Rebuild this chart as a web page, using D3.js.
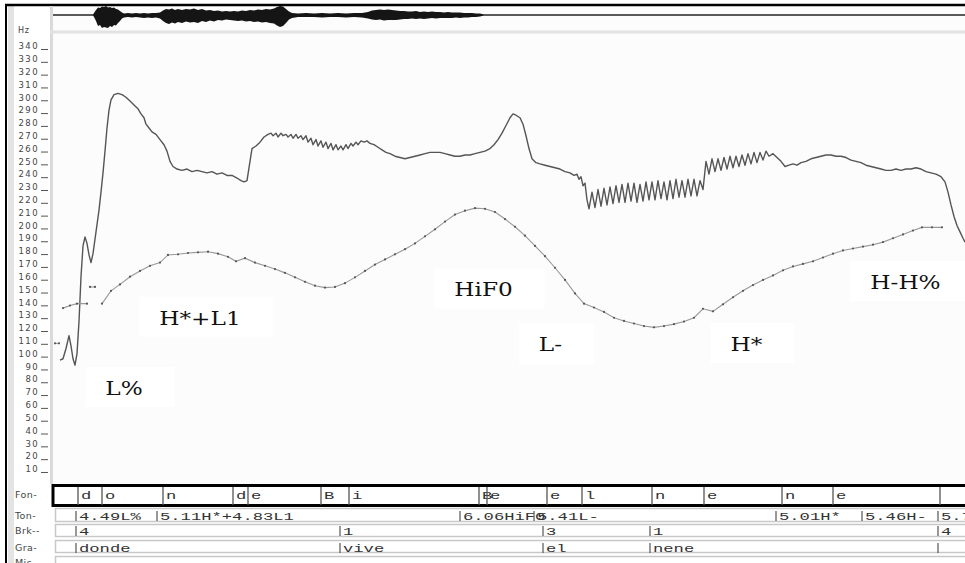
<!DOCTYPE html>
<html>
<head>
<meta charset="utf-8">
<script src="https://cdn.jsdelivr.net/npm/d3@7"></script>
<style>
  body { margin: 0; background: #fff; }
  svg { display: block; }
</style>
</head>
<body>
<figure id="pitch" style="margin:0"></figure>
<script>
// time in ms (0 = left edge of the analysis window), pitch in Hz
const f0Upper = [
  [14,95],[20,96],[26,104],[32,114],[36,106],[40,96],[44,91],[48,100],[52,125],[56,160],
  [60,184],[64,191],[68,186],[72,177],[76,171],[80,178],[86,195],[92,212],[96,226],[100,241],
  [104,258],[108,276],[112,290],[116,298],[122,302],[130,303],[138,302],[146,300],[154,297],[162,294],
  [170,291],[176,287],[182,284],[186,279],[192,276],[198,273],[206,271],[214,267],[222,263],[228,258],
  [234,250],[240,246],[248,244],[258,243],[268,244],[278,242],[288,243],[298,242],[308,241],[318,242],
  [328,240],[338,241],[348,239],[358,239],[368,237],[376,235],[382,234],[388,235],[394,250],[398,260],
  [406,262],[414,265],[422,269],[430,271],[436,272],[440,270],[446,272],[450,269],[456,272],[460,270],
  [466,271],[470,269],[476,271],[480,268],[486,271],[490,268],[496,270],[500,267],[506,270],[510,265],
  [516,268],[520,263],[526,267],[530,262],[536,266],[540,261],[546,265],[550,260],[556,264],[560,259],
  [566,263],[570,259],[576,262],[580,259],[586,263],[590,260],[596,264],[600,262],[606,265],[610,263],
  [616,266],[622,265],[628,266],[634,264],[642,263],[650,261],[658,259],[666,257],[674,256],[684,254],
  [694,253],[704,252],[714,253],[724,254],[734,255],[744,256],[754,257],[764,257],[774,257],[784,256],
  [794,255],[804,254],[814,254],[824,255],[834,255],[844,256],[854,257],[864,258],[874,260],[882,263],
  [890,267],[898,272],[906,278],[914,284],[920,287],[926,286],[934,284],[940,279],[946,270],[952,260],
  [958,252],[966,249],[974,248],[984,247],[994,246],[1004,245],[1014,244],[1024,242],[1034,241],[1042,239],
  [1048,240],[1052,236],[1056,238],[1060,231],[1064,233],[1068,220],[1072,213],[1078,226],[1084,214],[1090,228],
  [1096,215],[1102,229],[1108,216],[1114,230],[1120,217],[1126,231],[1132,218],[1138,232],[1144,218],[1150,233],
  [1156,219],[1162,233],[1168,218],[1174,232],[1180,219],[1186,234],[1192,220],[1198,234],[1204,220],[1210,235],
  [1216,221],[1222,234],[1228,220],[1234,235],[1240,221],[1246,236],[1252,222],[1258,235],[1264,222],[1270,236],
  [1276,223],[1282,236],[1288,223],[1294,235],[1300,228],[1306,250],[1312,240],[1318,252],[1324,242],[1330,252],
  [1336,243],[1342,253],[1348,244],[1354,254],[1360,245],[1366,254],[1372,246],[1378,255],[1384,247],[1390,256],
  [1396,248],[1402,257],[1408,249],[1414,257],[1420,251],[1426,258],[1432,254],[1440,256],[1448,253],[1456,250],
  [1464,246],[1472,247],[1480,248],[1488,247],[1496,249],[1506,250],[1516,252],[1526,253],[1536,254],[1546,255],
  [1556,255],[1566,254],[1576,254],[1586,253],[1596,251],[1606,250],[1616,249],[1626,247],[1636,246],[1646,245],
  [1656,244],[1666,243],[1676,243],[1686,244],[1696,243],[1706,244],[1716,244],[1726,245],[1736,244],[1746,242],
  [1756,241],[1766,240],[1776,238],[1784,234],[1790,226],[1796,216],[1802,207],[1808,200],[1814,195],[1820,190],
  [1824,187]
];

// stylised (resynthesised) contour, one dot per frame
const f0Stylized = [
  [98,139],[116,149],[134,154],[154,160],[174,164.5],[194,168.5],[214,171],[230,177],[250,177.5],[270,178.5],
  [290,179],[310,179.5],[330,178],[350,175.5],[366,172],[384,174.5],[404,171],[424,168.5],[444,166],[464,163],
  [484,159.5],[504,156],[524,153],[544,151.5],[564,152],[584,155],[604,159.5],[624,164.5],[644,169.5],[664,173.5],
  [684,177.5],[704,181.5],[724,186],[744,191.5],[764,197],[784,203],[804,208.5],[824,211.5],[844,213.5],[864,213],
  [884,210.5],[904,205],[924,199],[944,192],[964,184],[984,176],[1004,167],[1024,157.5],[1044,147],[1062,139],
  [1082,136],[1102,132.5],[1122,128],[1142,125.5],[1162,123.5],[1182,121.5],[1202,120.5],[1222,121.5],[1242,123],[1262,125],
  [1282,128],[1300,135],[1320,133],[1340,138.5],[1360,144],[1380,149],[1400,153.5],[1420,157.5],[1440,161],[1460,165],
  [1480,168],[1500,170],[1520,172],[1540,175],[1560,178],[1580,180.5],[1600,182],[1620,183.5],[1640,185],[1660,187],
  [1680,190],[1700,193],[1720,196],[1738,198.5],[1758,198.5],[1778,198.5]
];
// stray stylised fragments at the start
const f0Fragments = [
  [[4,108],[12,108]],
  [[20,135.5],[34,137.5],[48,139],[68,139]],
  [[74,152],[84,152]]
];

// waveform envelope: time, upper amplitude, lower amplitude
const waveEnv = [
  [0,0.05,-0.05],[80,0.05,-0.05],[82,0.2,-0.2],[86,0.5,-0.6],[90,0.75,-1.1],[94,0.7,-1.0],[98,0.85,-1.3],
  [102,0.8,-1.2],[106,0.9,-1.25],[110,0.75,-1.3],[114,0.8,-1.1],[118,0.7,-1.2],[122,0.75,-1.0],[126,0.6,-1.05],
  [130,0.55,-0.8],[134,0.4,-0.6],[138,0.25,-0.35],[142,0.15,-0.25],[150,0.2,-0.2],[158,0.15,-0.25],[166,0.2,-0.2],
  [174,0.15,-0.25],[182,0.2,-0.3],[190,0.15,-0.25],[198,0.2,-0.3],[206,0.2,-0.25],[214,0.25,-0.35],[220,0.45,-0.6],
  [226,0.6,-0.8],[232,0.55,-0.9],[238,0.65,-0.75],[244,0.5,-0.85],[250,0.6,-0.7],[258,0.5,-0.8],[266,0.6,-0.65],
  [274,0.55,-0.75],[282,0.65,-0.7],[290,0.5,-0.8],[298,0.6,-0.6],[306,0.45,-0.7],[314,0.5,-0.55],[322,0.4,-0.65],
  [330,0.45,-0.5],[338,0.35,-0.55],[346,0.4,-0.45],[354,0.35,-0.5],[362,0.4,-0.55],[370,0.35,-0.6],[378,0.45,-0.55],
  [386,0.4,-0.65],[394,0.5,-0.6],[402,0.45,-0.7],[410,0.55,-0.65],[418,0.5,-0.75],[426,0.6,-0.7],[434,0.55,-0.8],
  [442,0.65,-0.85],[448,0.8,-1.05],[454,0.9,-1.2],[460,0.85,-1.1],[466,0.6,-0.8],[472,0.35,-0.45],[478,0.2,-0.3],
  [490,0.15,-0.2],[506,0.2,-0.2],[522,0.15,-0.2],[538,0.2,-0.25],[554,0.15,-0.2],[570,0.2,-0.2],[586,0.15,-0.25],
  [602,0.2,-0.2],[618,0.2,-0.25],[630,0.3,-0.35],[638,0.45,-0.45],[646,0.5,-0.5],[654,0.55,-0.45],[662,0.5,-0.55],
  [670,0.55,-0.5],[678,0.5,-0.5],[686,0.45,-0.5],[694,0.4,-0.45],[702,0.4,-0.4],[710,0.35,-0.4],[718,0.35,-0.35],
  [726,0.4,-0.4],[734,0.3,-0.35],[742,0.35,-0.4],[750,0.3,-0.35],[758,0.35,-0.3],[766,0.3,-0.35],[774,0.3,-0.3],
  [782,0.25,-0.3],[790,0.3,-0.3],[798,0.25,-0.3],[806,0.25,-0.25],[814,0.25,-0.3],[822,0.2,-0.25],[830,0.2,-0.25],
  [838,0.2,-0.2],[846,0.15,-0.2],[854,0.15,-0.15],[862,0.05,-0.05],[1824,0.05,-0.05]
];

const hzTicks = d3.range(10, 341, 10);

// ToBI annotations placed on the pitch panel
const annoText = ["L%", "H*+L1", "HiF0", "L-", "H*", "H-H%"];
const annoTime = [142, 294, 861, 995, 1387, 1705];
const annoHz = [73, 128, 150, 107, 107.5, 156];

// label tiers
const tierNames = ["Fon-", "Ton-", "Brk--", "Gra-", "Mis-"];
const fonTimes = [0, 50, 98, 220, 360, 390, 536, 592, 852, 868, 988, 1058, 1198, 1302, 1458, 1560, 1774];
const fonLabels = ["", "d", "o", "n", "d", "e", "B", "i", "B", "e", "e", "l", "n", "e", "n", "e", ""];
const tonTimes = [46, 208, 814, 962, 1446, 1618, 1770];
const tonLabels = ["4.49L%", "5.11H*+4.83L1", "6.06HiF0", "5.41L-", "5.01H*", "5.46H-", "5.7"];
const brkTimes = [46, 574, 980, 1194, 1770];
const brkLabels = ["4", "1", "3", "1", "4"];
const graTimes = [46, 574, 980, 1194, 1770];
const graLabels = ["donde", "vive", "el", "nene", ""];

const width = 965, height = 563;
const plotLeft = 53, plotRight = 965;

const svg = d3.select("figure#pitch")
  .append("svg")
  .attr("width", width)
  .attr("height", height);

const x = d3.scaleLinear().domain([0, 1824]).range([plotLeft, plotRight]);
const y = d3.scaleLinear().domain([0, 340]).range([481.8, 46]);
const yWave = d3.scaleLinear().domain([-1, 1]).range([25, 5]);

// window frame
svg.append("rect").attr("x", 0).attr("y", 0).attr("width", width).attr("height", height).attr("fill", "#fff");
svg.append("rect").attr("x", 8).attr("y", 6).attr("width", 6).attr("height", height).attr("fill", "#e4e4e4");
svg.append("rect").attr("x", plotLeft).attr("y", 6).attr("width", plotRight - plotLeft).attr("height", 478).attr("fill", "#fcfcfc");
svg.append("line").attr("x1", 6).attr("x2", 6).attr("y1", 4).attr("y2", height).attr("stroke", "#000").attr("stroke-width", 2);
svg.append("line").attr("x1", 5).attr("x2", width).attr("y1", 5).attr("y2", 5).attr("stroke", "#000").attr("stroke-width", 2.5);
svg.append("line").attr("x1", 51.5).attr("x2", 51.5).attr("y1", 6).attr("y2", 484).attr("stroke", "#dadada").attr("stroke-width", 3);
svg.append("line").attr("x1", 50).attr("x2", width).attr("y1", 32).attr("y2", 32).attr("stroke", "#e2e2e2").attr("stroke-width", 3);

// waveform
svg.append("line")
  .attr("x1", x(0)).attr("x2", x(1824))
  .attr("y1", yWave(0)).attr("y2", yWave(0))
  .attr("stroke", "#444").attr("stroke-width", 1);

svg.append("path")
  .datum(waveEnv)
  .attr("fill", "#151515")
  .attr("d", d3.area()
    .x(d => x(d[0]))
    .y0(d => yWave(d[2]))
    .y1(d => yWave(d[1])));

// Hz axis
svg.append("text")
  .attr("x", 18).attr("y", 33)
  .attr("font-family", "DejaVu Sans")
  .attr("font-size", 8)
  .attr("letter-spacing", 0.8)
  .attr("fill", "#444")
  .text("Hz");

const yAxis = svg.append("g")
  .attr("transform", "translate(48,0)")
  .call(d3.axisLeft(y).tickValues(hzTicks).tickSize(7).tickPadding(2));
yAxis.select(".domain").remove();
yAxis.selectAll("line").attr("y1", 3).attr("y2", 3).attr("stroke", "#555");
yAxis.selectAll("text")
  .attr("font-family", "DejaVu Sans")
  .attr("font-size", 8.5)
  .attr("letter-spacing", 1.4)
  .attr("fill", "#444");

// annotation boxes, drawn under the contours
const annoG = svg.append("g");
annoText.forEach((t, i) => {
  const g = annoG.append("g");
  const txt = g.append("text")
    .attr("x", x(annoTime[i]))
    .attr("y", y(annoHz[i]))
    .attr("dy", "0.36em")
    .attr("text-anchor", "middle")
    .attr("font-family", "DejaVu Serif")
    .attr("font-size", 19)
    .attr("fill", "#111")
    .text(t);
  const w = txt.node().getComputedTextLength() * 1.22;
  txt.attr("textLength", w).attr("lengthAdjust", "spacingAndGlyphs");
  g.insert("rect", "text")
    .attr("x", x(annoTime[i]) - w / 2 - 20)
    .attr("y", y(annoHz[i]) - 21)
    .attr("width", w + 52)
    .attr("height", 40)
    .attr("fill", "#fff");
});

// pitch contours
const line = d3.line().x(d => x(d[0])).y(d => y(d[1]));

svg.append("path")
  .datum(f0Upper)
  .attr("fill", "none")
  .attr("stroke", "#555")
  .attr("stroke-width", 1.4)
  .attr("stroke-linejoin", "round")
  .attr("d", line);

[f0Stylized].concat(f0Fragments).forEach(seg => {
  svg.append("path")
    .datum(seg)
    .attr("fill", "none")
    .attr("stroke", "#999")
    .attr("stroke-width", 1.1)
    .attr("d", line);
  svg.append("g").selectAll("circle")
    .data(seg)
    .enter()
    .append("circle")
    .attr("cx", d => x(d[0]))
    .attr("cy", d => y(d[1]))
    .attr("r", 1.1)
    .attr("fill", "#555");
});

// label tiers
const tierY = [484, 508, 524, 540, 556];
const tierH = [22, 13, 12, 12, 12];
const tierText = [495, 516, 531, 548, 563];

tierNames.forEach((n, i) => {
  svg.append("text")
    .attr("x", 15).attr("y", tierText[i])
    .attr("dy", "0.35em")
    .attr("font-family", "DejaVu Sans")
    .attr("font-size", 9.5)
    .attr("letter-spacing", 0.4)
    .attr("fill", "#444")
    .text(n);
});

// Fon tier: heavy frame
svg.append("rect")
  .attr("x", plotLeft).attr("y", tierY[0] + 1.5)
  .attr("width", plotRight - plotLeft + 5).attr("height", tierH[0] - 2)
  .attr("fill", "#fff")
  .attr("stroke", "#000")
  .attr("stroke-width", 3);

for (let i = 1; i < 5; i++) {
  svg.append("rect")
    .attr("x", 55.5).attr("y", tierY[i] + 0.5)
    .attr("width", plotRight - 50).attr("height", tierH[i])
    .attr("fill", "#fff")
    .attr("stroke", "#c8c8c8")
    .attr("stroke-width", 1.5);
}

const mono = (sel) => sel
  .attr("font-family", "Liberation Mono")
  .attr("font-size", 11)
  .attr("fill", "#333");

function drawTier(times, labels, row, fullHeight) {
  const g = svg.append("g");
  times.forEach((t, i) => {
    if (fullHeight) {
      if (t > 0) {
        g.append("line")
          .attr("x1", x(t)).attr("x2", x(t))
          .attr("y1", tierY[row] + 3).attr("y2", tierY[row] + tierH[row] - 1)
          .attr("stroke", "#555").attr("stroke-width", 1.3);
      }
    } else {
      g.append("line")
        .attr("x1", x(t)).attr("x2", x(t))
        .attr("y1", tierText[row] - 5).attr("y2", tierText[row] + 5)
        .attr("stroke", "#555").attr("stroke-width", 1.2);
    }
    if (labels[i]) {
      const txt = g.append("text")
        .attr("x", x(t) + 3)
        .attr("y", tierText[row])
        .attr("dy", "0.33em")
        .text(labels[i])
        .call(mono);
      txt.attr("textLength", labels[i].length * 10.3).attr("lengthAdjust", "spacingAndGlyphs");
    }
  });
}

drawTier(fonTimes, fonLabels, 0, true);
drawTier(tonTimes, tonLabels, 1, false);
drawTier(brkTimes, brkLabels, 2, false);
drawTier(graTimes, graLabels, 3, false);
</script>
</body>
</html>
